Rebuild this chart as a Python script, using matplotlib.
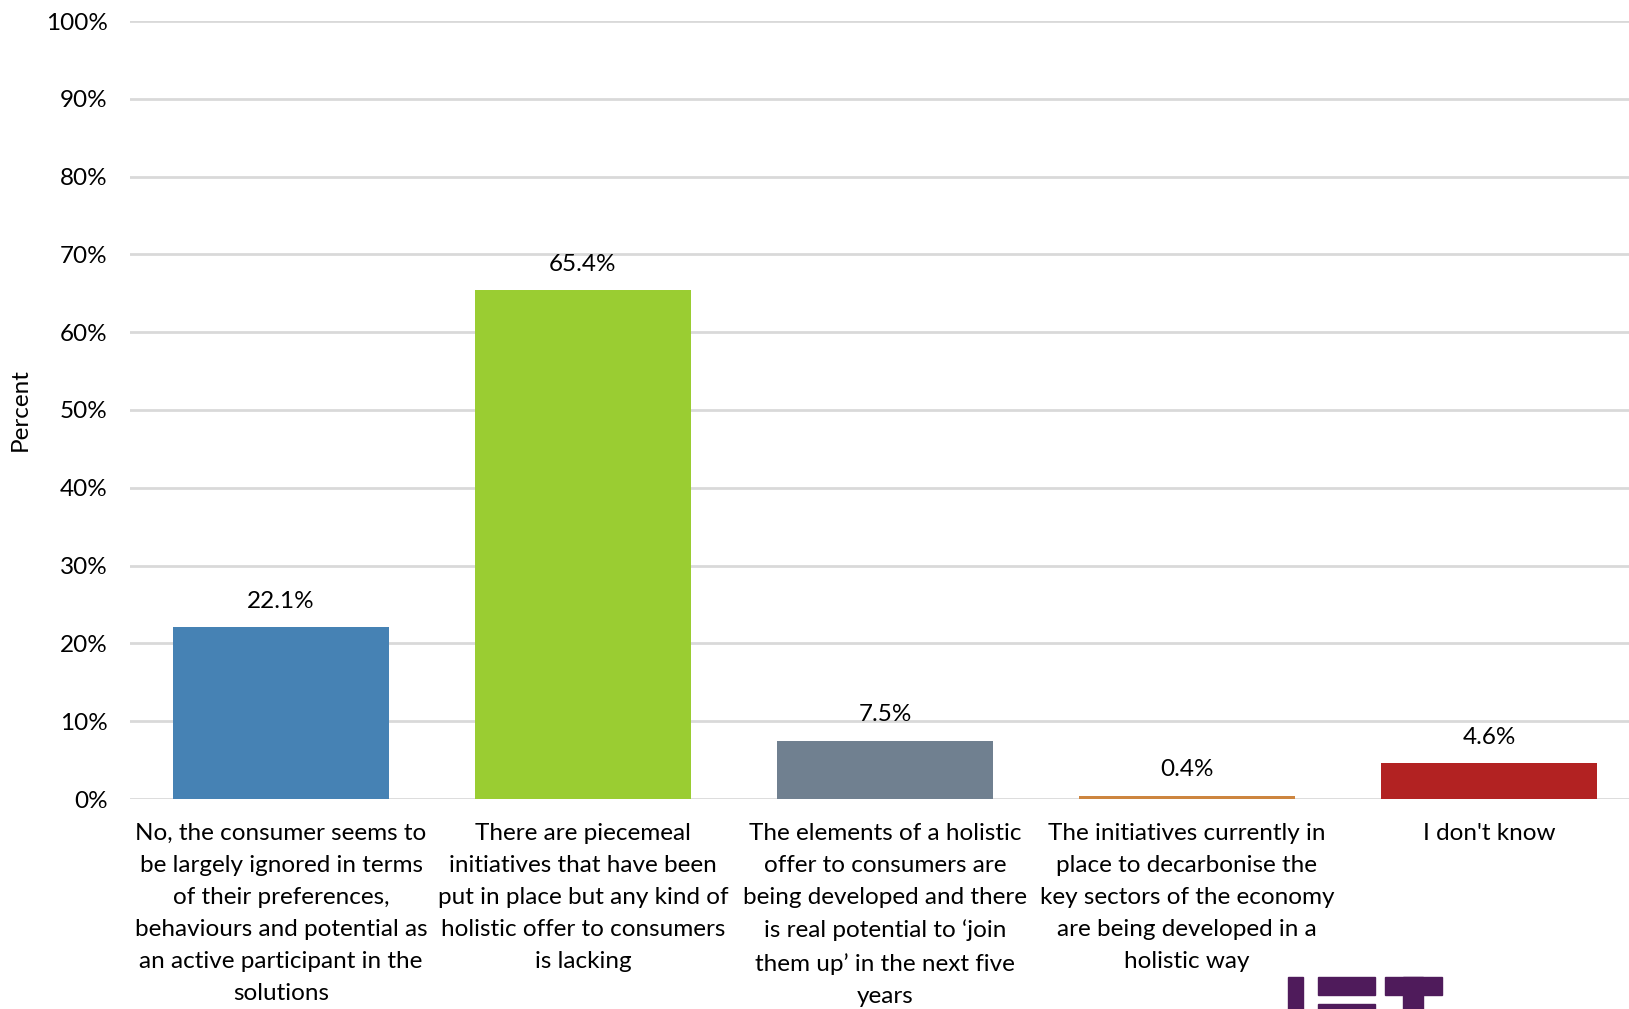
import matplotlib.pyplot as plt
from matplotlib.patches import Rectangle

categories = [
    "No, the consumer seems to\nbe largely ignored in terms\nof their preferences,\nbehaviours and potential as\nan active participant in the\nsolutions",
    "There are piecemeal\ninitiatives that have been\nput in place but any kind of\nholistic offer to consumers\nis lacking",
    "The elements of a holistic\noffer to consumers are\nbeing developed and there\nis real potential to \u2018join\nthem up\u2019 in the next five\nyears",
    "The initiatives currently in\nplace to decarbonise the\nkey sectors of the economy\nare being developed in a\nholistic way",
    "I don't know",
]
values = [22.1, 65.4, 7.5, 0.4, 4.6]
colors = ["steelblue", "yellowgreen", "slategray", "peru", "firebrick"]

plt.rcParams["font.family"] = ["Lato", "DejaVu Sans"]
FS = 17.5

W, H = 1629, 1009
fig = plt.figure(figsize=(W / 100, H / 100), dpi=100)
ax = fig.add_axes([130 / W, 1 - 799 / H, (1640 - 130) / W, (799 - 21) / H])

x = range(len(values))
bars = ax.bar(x, values, width=0.715, color=colors, zorder=3)
for b, v in zip(bars, values):
    ax.text(b.get_x() + b.get_width() / 2, v + 2.0, f"{v:.1f}%",
            ha="center", va="bottom", fontsize=FS)

ax.set_xlim(-0.5, 4.5)
ax.set_ylim(0, 100)
ax.set_yticks(range(0, 101, 10))
ax.set_yticklabels([f"{t}%" for t in range(0, 101, 10)], fontsize=FS)
ax.set_xticks(list(x))
ax.set_xticklabels(categories, fontsize=FS, linespacing=1.65, va="top")
ax.tick_params(axis="both", length=0)
ax.tick_params(axis="x", pad=17)
ax.tick_params(axis="y", pad=16)
ax.grid(axis="y", color="#D9D9D9", linewidth=2, zorder=0)
for s in ax.spines.values():
    s.set_visible(False)
ax.set_ylabel("Percent", fontsize=FS)
ax.yaxis.set_label_coords(-0.066, 0.5)

# partial IET logo in the bottom-right corner
purple = "#4F1B5B"
for (x0, y0, x1, y1) in [(1288, 977, 1303, 1009), (1318, 977, 1375, 995),
                         (1318, 1004, 1375, 1009), (1385, 977, 1442, 995),
                         (1403, 977, 1423, 1009)]:
    fig.patches.append(Rectangle((x0 / W, 1 - y1 / H), (x1 - x0) / W, (y1 - y0) / H,
                                 transform=fig.transFigure, color=purple, zorder=5))

fig.savefig("out.png", dpi=100)
